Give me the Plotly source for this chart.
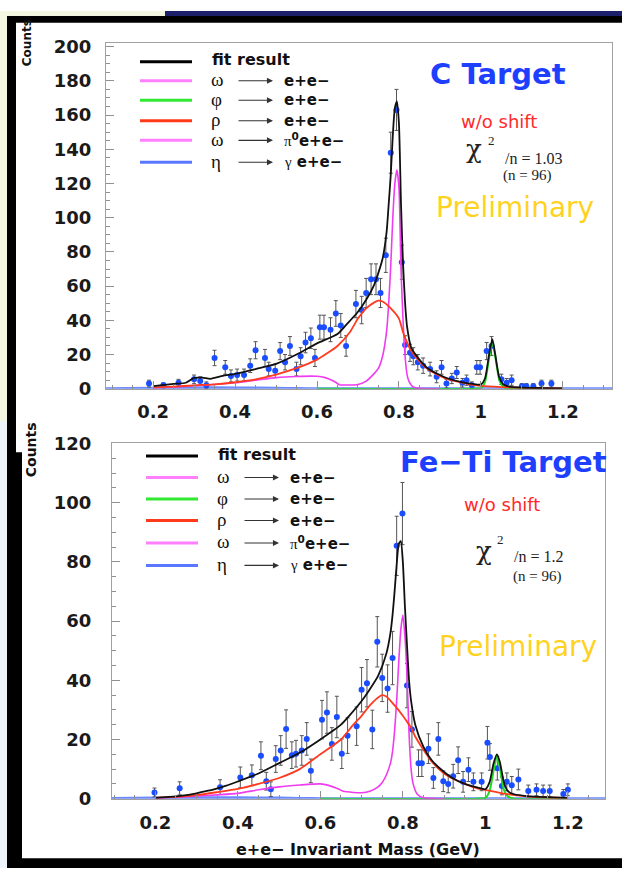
import plotly.graph_objects as go

W, H = 622, 878

# ---------------- C target : data points ----------------
c_mass = [0.190, 0.225, 0.262, 0.300, 0.315, 0.330, 0.350, 0.376, 0.390, 0.405, 0.422, 0.437, 0.450,
          0.473, 0.482, 0.498, 0.510, 0.522, 0.534, 0.550, 0.560, 0.572, 0.585, 0.595, 0.607, 0.617,
          0.633, 0.646, 0.658, 0.671, 0.695, 0.709, 0.720, 0.732, 0.744, 0.755, 0.768, 0.780, 0.794,
          0.807, 0.815, 0.827, 0.835, 0.846, 0.859, 0.876, 0.892, 0.904, 0.916, 0.929, 0.941, 0.955,
          0.965, 0.978, 0.990, 0.998, 1.014, 1.026, 1.050, 1.063, 1.075, 1.100, 1.111, 1.128, 1.148, 1.172]
c_counts = [3.0, 2.0, 3.5, 5.5, 4.5, 2.0, 18.0, 12.5, 7.5, 8.0, 8.0, 13.5, 22.5,
            18.0, 11.5, 10.5, 22.0, 15.5, 25.0, 11.5, 19.0, 27.0, 29.5, 18.0, 36.0, 36.0,
            34.5, 44.0, 37.0, 25.0, 49.5, 46.0, 56.0, 64.0, 64.0, 56.0, 78.0, 138.0, 163.0,
            74.0, 25.5, 21.0, 19.0, 15.5, 13.5, 11.5, 7.0, 12.5, 3.0, 6.0, 9.5, 3.5,
            5.0, 2.0, 12.5, 12.5, 22.0, 25.0, 5.5, 3.5, 5.0, 1.5, 1.5, 1.5, 3.0, 3.0]
c_err = [2.0, 1.5, 2.0, 2.5, 2.5, 2.0, 4.5, 4.0, 3.5, 3.5, 3.5, 4.0, 5.0,
         5.0, 4.0, 4.0, 5.0, 4.5, 5.5, 4.0, 5.0, 6.0, 6.0, 5.0, 7.0, 7.0,
         7.0, 7.5, 7.0, 6.0, 8.0, 8.0, 8.5, 9.0, 9.0, 8.5, 10.0, 12.0, 12.0,
         10.0, 5.5, 5.0, 5.0, 4.5, 4.5, 4.0, 3.5, 4.0, 2.5, 3.0, 3.5, 2.5,
         3.0, 2.0, 4.0, 4.0, 5.0, 5.5, 3.0, 2.5, 3.0, 1.5, 1.5, 1.5, 2.0, 2.0]

# ---------------- C target : fit components ----------------
fit_x = [0.20, 0.25, 0.28, 0.30, 0.32, 0.34, 0.37, 0.40, 0.45, 0.50, 0.55, 0.60, 0.65, 0.67, 0.70, 0.72,
         0.74, 0.76, 0.77, 0.775, 0.78, 0.785, 0.79, 0.795, 0.80, 0.805, 0.81, 0.815, 0.82, 0.83, 0.85,
         0.87, 0.90, 0.92, 0.95, 0.98, 1.00, 1.01, 1.02, 1.028, 1.035, 1.045, 1.055, 1.07, 1.10, 1.15, 1.20]
c_fit = [1.5, 2.8, 3.5, 6.3, 6.5, 5.8, 7.5, 8.7, 11.5, 14.5, 20.0, 26.5, 32.0, 37.0, 45.0, 52.0,
         61.0, 76.0, 92.0, 108.0, 125.0, 148.0, 164.0, 168.0, 155.0, 108.0, 73.0, 50.0, 36.0, 24.0, 17.0,
         12.0, 8.0, 6.0, 4.0, 2.8, 2.5, 6.0, 20.0, 29.0, 20.0, 6.5, 2.5, 1.2, 0.7, 0.4, 0.2]

rho_x = [0.20, 0.25, 0.30, 0.35, 0.40, 0.45, 0.50, 0.55, 0.60, 0.65, 0.68, 0.70, 0.72, 0.74, 0.75, 0.76,
         0.78, 0.80, 0.81, 0.82, 0.83, 0.85, 0.87, 0.90, 0.92, 0.95, 0.98, 1.00, 1.05, 1.10, 1.15, 1.20]
c_rho = [0.8, 1.2, 2.0, 2.6, 3.8, 5.5, 8.3, 12.0, 17.0, 25.0, 33.0, 41.0, 47.0, 50.5, 51.5, 51.0,
         47.0, 41.0, 33.0, 27.0, 22.0, 16.0, 11.5, 7.5, 5.5, 3.8, 2.2, 1.7, 1.0, 0.5, 0.3, 0.2]

omega_x = [0.655, 0.68, 0.70, 0.72, 0.74, 0.75, 0.76, 0.77, 0.775, 0.78, 0.785, 0.79, 0.795, 0.80, 0.805,
           0.81, 0.815, 0.82, 0.825, 0.835, 0.85, 0.90]
c_omega = [2.2, 2.2, 2.5, 4.5, 9.0, 12.0, 19.0, 34.0, 50.0, 72.0, 100.0, 120.0, 128.0, 118.0, 70.0,
           40.0, 19.0, 8.0, 4.0, 1.0, 0.2, 0.0]

dalitz_x = [0.20, 0.25, 0.30, 0.35, 0.40, 0.45, 0.50, 0.55, 0.60, 0.62, 0.64, 0.655]
c_dalitz = [0.5, 1.0, 1.8, 2.5, 3.5, 5.0, 6.5, 7.2, 7.3, 6.5, 4.5, 2.2]

phi_x = [0.60, 0.98, 1.00, 1.01, 1.02, 1.028, 1.035, 1.045, 1.055, 1.07, 1.20]
c_phi = [0.0, 0.0, 0.3, 4.0, 18.0, 27.5, 19.0, 5.0, 1.0, 0.0, 0.0]

eta_x = [0.08, 0.20, 0.30, 0.40, 0.50, 0.55, 0.60, 1.33]
c_eta = [0.0, 0.3, 0.5, 0.5, 0.3, 0.1, 0.0, 0.0]

# ---------------- Fe-Ti target : data points ----------------
f_mass = [0.198, 0.259, 0.357, 0.406, 0.434, 0.456, 0.469, 0.480, 0.492, 0.504, 0.517, 0.531, 0.541,
          0.555, 0.567, 0.577, 0.604, 0.616, 0.628, 0.640, 0.652, 0.666, 0.688, 0.700, 0.713, 0.726,
          0.738, 0.750, 0.763, 0.775, 0.785, 0.799, 0.810, 0.822, 0.838, 0.846, 0.862, 0.874, 0.886,
          0.898, 0.910, 0.922, 0.934, 0.946, 0.959, 0.971, 0.991, 1.005, 1.011, 1.029, 1.040, 1.052,
          1.064, 1.080, 1.104, 1.124, 1.140, 1.156, 1.189, 1.200]
f_counts = [2.1, 3.5, 3.9, 7.2, 7.9, 14.5, 5.9, 3.2, 13.4, 16.3, 23.5, 14.7, 15.2,
            16.3, 20.2, 9.4, 26.7, 29.1, 18.5, 27.6, 15.2, 21.3, 24.5, 36.8, 39.0, 23.4,
            53.0, 40.8, 37.2, 47.5, 85.4, 96.3, 38.2, 23.4, 12.0, 12.0, 16.9, 7.0, 20.2,
            5.9, 5.0, 7.6, 13.0, 5.7, 9.8, 5.7, 5.7, 18.9, 14.1, 10.3, 4.3, 5.7,
            4.5, 6.5, 2.6, 3.0, 2.6, 2.6, 1.6, 3.0]
f_err = [1.5, 2.2, 2.5, 3.5, 3.5, 4.7, 3.0, 2.5, 4.5, 5.0, 6.5, 4.5, 4.5,
         5.0, 5.5, 4.0, 6.5, 7.0, 5.5, 7.0, 5.0, 6.0, 6.5, 7.5, 8.0, 6.5,
         8.5, 8.0, 8.0, 9.0, 10.0, 10.5, 7.5, 6.0, 4.5, 4.5, 5.0, 3.5, 5.5,
         3.5, 3.0, 4.0, 4.5, 3.5, 4.0, 3.0, 3.0, 5.5, 4.5, 4.0, 3.0, 3.0,
         3.0, 3.5, 2.0, 2.0, 2.0, 2.0, 1.5, 2.0]

# ---------------- Fe-Ti target : fit components ----------------
f_fit = [0.3, 0.8, 1.3, 1.8, 2.5, 3.1, 4.3, 5.8, 8.5, 12.0, 15.5, 20.0, 25.0, 28.0, 33.0, 37.0,
         41.5, 49.0, 56.0, 62.0, 70.0, 79.0, 86.0, 87.0, 80.0, 65.0, 52.0, 40.0, 33.0, 25.0, 17.5,
         13.0, 9.0, 7.0, 5.0, 3.8, 3.2, 5.5, 12.0, 15.0, 12.5, 5.5, 2.5, 1.5, 0.9, 0.5, 0.3]
f_rho = [0.3, 0.6, 1.2, 2.2, 3.3, 5.0, 7.0, 10.0, 15.0, 20.0, 25.0, 28.0, 31.5, 34.2, 35.0, 34.5,
         31.5, 28.0, 26.0, 24.0, 21.0, 16.5, 12.5, 8.5, 6.8, 5.0, 3.5, 3.0, 1.6, 0.8, 0.4, 0.3]
f_omega = [2.5, 2.1, 2.0, 2.5, 4.0, 5.5, 8.0, 12.0, 16.0, 23.0, 33.0, 46.0, 57.0, 62.0, 55.0,
           42.0, 22.0, 10.0, 5.0, 1.5, 0.3, 0.0]
f_dalitz = [0.2, 0.5, 0.9, 1.3, 1.8, 3.0, 4.0, 4.6, 5.0, 4.5, 3.5, 2.5]
f_phi = [0.0, 0.0, 0.3, 2.5, 9.5, 14.5, 10.5, 3.0, 0.7, 0.0, 0.0]
f_eta = [0.0, 0.2, 0.3, 0.3, 0.2, 0.1, 0.0, 0.0]

x_ticks = [0.2, 0.4, 0.6, 0.8, 1.0, 1.2]
x_ticktext = ["0.2", "0.4", "0.6", "0.8", "1", "1.2"]

legend_colors = ["#000000", "#ff80ff", "#33e833", "#ff3a1a", "#ff80ff", "#5a78ff"]
legend_sym = [None, "ω", "φ", "ρ", "ω", "η"]
legend_prod = [None, "e+e−", "e+e−", "e+e−",
               "<span style='font-family:Liberation Serif;font-weight:normal'>π</span><sup>0</sup>e+e−",
               "<span style='font-family:Liberation Serif;font-weight:normal'>γ</span> e+e−"]

BLACK = "#111111"
RED = "#ff3b1f"
PINK = "#f03cf0"
GREEN = "#1fdc1f"
BLUE = "#6a88ff"
DOT = "#1a4dff"


def P(px, py):
    return px / W, 1 - py / H


fig = go.Figure()


def add_panel(xa, ya, mass, counts, err, fit, rho, omega, dalitz, phi, eta):
    fig.add_trace(go.Scatter(x=eta_x, y=eta, mode="lines", xaxis=xa, yaxis=ya,
                             line=dict(color=BLUE, width=3, shape="spline", smoothing=0.6)))
    fig.add_trace(go.Scatter(
        x=mass, y=counts, mode="markers", xaxis=xa, yaxis=ya,
        marker=dict(color=DOT, size=6),
        error_y=dict(type="data", array=err, visible=True, color="#555555", thickness=1, width=2)))
    fig.add_trace(go.Scatter(x=phi_x, y=phi, mode="lines", xaxis=xa, yaxis=ya,
                             line=dict(color=GREEN, width=2, shape="spline", smoothing=0.6)))
    fig.add_trace(go.Scatter(x=dalitz_x, y=dalitz, mode="lines", xaxis=xa, yaxis=ya,
                             line=dict(color=PINK, width=1.6, shape="spline", smoothing=0.6)))
    fig.add_trace(go.Scatter(x=omega_x, y=omega, mode="lines", xaxis=xa, yaxis=ya,
                             line=dict(color=PINK, width=1.6, shape="spline", smoothing=0.6)))
    fig.add_trace(go.Scatter(x=rho_x, y=rho, mode="lines", xaxis=xa, yaxis=ya,
                             line=dict(color=RED, width=1.8, shape="spline", smoothing=0.6)))
    fig.add_trace(go.Scatter(x=fit_x, y=fit, mode="lines", xaxis=xa, yaxis=ya,
                             line=dict(color=BLACK, width=1.8, shape="spline", smoothing=0.6)))


add_panel("x", "y", c_mass, c_counts, c_err, c_fit, c_rho, c_omega, c_dalitz, c_phi, c_eta)
add_panel("x2", "y2", f_mass, f_counts, f_err, f_fit, f_rho, f_omega, f_dalitz, f_phi, f_eta)

tickfont = dict(family="DejaVu Sans", size=18, color="#1a1a1a", weight="bold")
axis_common = dict(showline=True, mirror=True, linecolor="#a0a0a0", linewidth=1,
                   showgrid=False, zeroline=False, ticks="inside", ticklen=8,
                   tickcolor="#909090", tickfont=tickfont)

fig.update_layout(
    width=W, height=H, margin=dict(l=0, r=0, t=0, b=0),
    paper_bgcolor="white", plot_bgcolor="white", showlegend=False,
    xaxis=dict(domain=[106 / W, 612 / W], range=[0.085, 1.32], tickvals=x_ticks, ticktext=x_ticktext,
               minor=dict(dtick=0.05, ticklen=4, ticks="inside", tickcolor="#909090"),
               ticklabelstandoff=7, anchor="y", **axis_common),
    yaxis=dict(domain=[1 - 387 / H, 1 - 33 / H], range=[0, 202], dtick=20,
               minor=dict(dtick=5, ticklen=4, ticks="inside", tickcolor="#909090"),
               ticklabelstandoff=10, anchor="x", **axis_common),
    xaxis2=dict(domain=[112 / W, 605 / W], range=[0.095, 1.29], tickvals=x_ticks, ticktext=x_ticktext,
                minor=dict(dtick=0.05, ticklen=4, ticks="inside", tickcolor="#909090"),
                ticklabelstandoff=8, anchor="y2", **axis_common),
    yaxis2=dict(domain=[1 - 807 / H, 1 - 443 / H], range=[0, 120], dtick=20,
                minor=dict(dtick=5, ticklen=4, ticks="inside", tickcolor="#909090"),
                ticklabelstandoff=16, anchor="x2", **axis_common),
)

shapes = []


def rect(x0, y0, x1, y1, color):
    a, b = P(x0, y0)
    c, d = P(x1, y1)
    shapes.append(dict(type="rect", xref="paper", yref="paper", x0=a, y0=d, x1=c, y1=b,
                       fillcolor=color, line=dict(width=0), layer="below"))


# slide background / frame
rect(0, 0, 7, 420, "#f4f7e2")
rect(0, 420, 7, 878, "#eef3fb")
rect(7, 0, 165, 5, "#f3f6df")
rect(165, 0, 622, 5, "#1c206a")
rect(7, 5, 622, 12, "#000000")
rect(7, 5, 16, 878, "#000000")
rect(16, 452, 22, 878, "#000000")
rect(7, 868, 622, 878, "#000000")

annotations = []


def text(px, py, s, size, color="#111111", family="DejaVu Sans", weight="normal", xanchor="center", angle=0):
    x, y = P(px, py)
    annotations.append(dict(x=x, y=y, xref="paper", yref="paper", text=s, showarrow=False,
                            xanchor=xanchor, yanchor="middle", textangle=angle,
                            font=dict(family=family, size=size, color=color, weight=weight)))


def legend(x_line0, rows):
    for i, row in enumerate(rows):
        a, b = P(x_line0, row)
        c, _ = P(x_line0 + 52, row)
        shapes.append(dict(type="line", xref="paper", yref="paper", x0=a, x1=c, y0=b, y1=b,
                           line=dict(color=legend_colors[i], width=3), layer="above"))
        if legend_sym[i] is None:
            text(x_line0 + 70, row - 2, "fit result", 16, weight="bold", xanchor="left")
        else:
            text(x_line0 + 69, row - 1, legend_sym[i], 19, family="Liberation Serif", xanchor="left")
            hx, hy = P(x_line0 + 133, row)
            annotations.append(dict(x=hx, y=hy, xref="paper", yref="paper", text="", showarrow=True,
                                    ax=-36, ay=0, arrowhead=2, arrowsize=1.1, arrowwidth=1.1,
                                    arrowcolor="#333333"))
            text(x_line0 + 142, row, legend_prod[i], 15, weight="bold", xanchor="left")


legend(140, [52, 71.5, 91.5, 112.5, 132.5, 155])
legend(146, [456, 478, 500, 522, 545, 568])

# C target texts
text(498, 65, "C Target", 29, color="#1f3fff", weight="bold")
text(499, 113, "w/o shift", 18, color="#ff2a2a")
text(474, 141, "χ", 26, color="#222222", family="DejaVu Serif")
text(491, 133, "2", 13, color="#222222", family="Liberation Serif")
text(533, 151, "/n = 1.03", 16, color="#222222", family="Liberation Serif")
text(527, 169, "(n = 96)", 15, color="#222222", family="Liberation Serif")
text(515, 201, "Preliminary", 28, color="#ffd21f")

# Fe-Ti target texts
text(503, 462, "Fe−Ti Target", 29, color="#1f3fff", weight="bold")
text(502, 506, "w/o shift", 18, color="#ff2a2a")
text(484, 553, "χ", 26, color="#222222", family="DejaVu Serif")
text(501, 541, "2", 13, color="#222222", family="Liberation Serif")
text(538, 559, "/n = 1.2", 16, color="#222222", family="Liberation Serif")
text(537, 579, "(n = 96)", 15, color="#222222", family="Liberation Serif")
text(518, 651, "Preliminary", 28, color="#ffd21f")

# axis titles
text(27, 33, "Counts", 12, weight="bold", angle=-90)
text(31, 450, "Counts", 14, weight="bold", angle=-90)
text(358, 859, "e+e− Invariant Mass (GeV)", 16, weight="bold")

fig.update_layout(shapes=shapes, annotations=annotations)
fig.write_html("out.html")
